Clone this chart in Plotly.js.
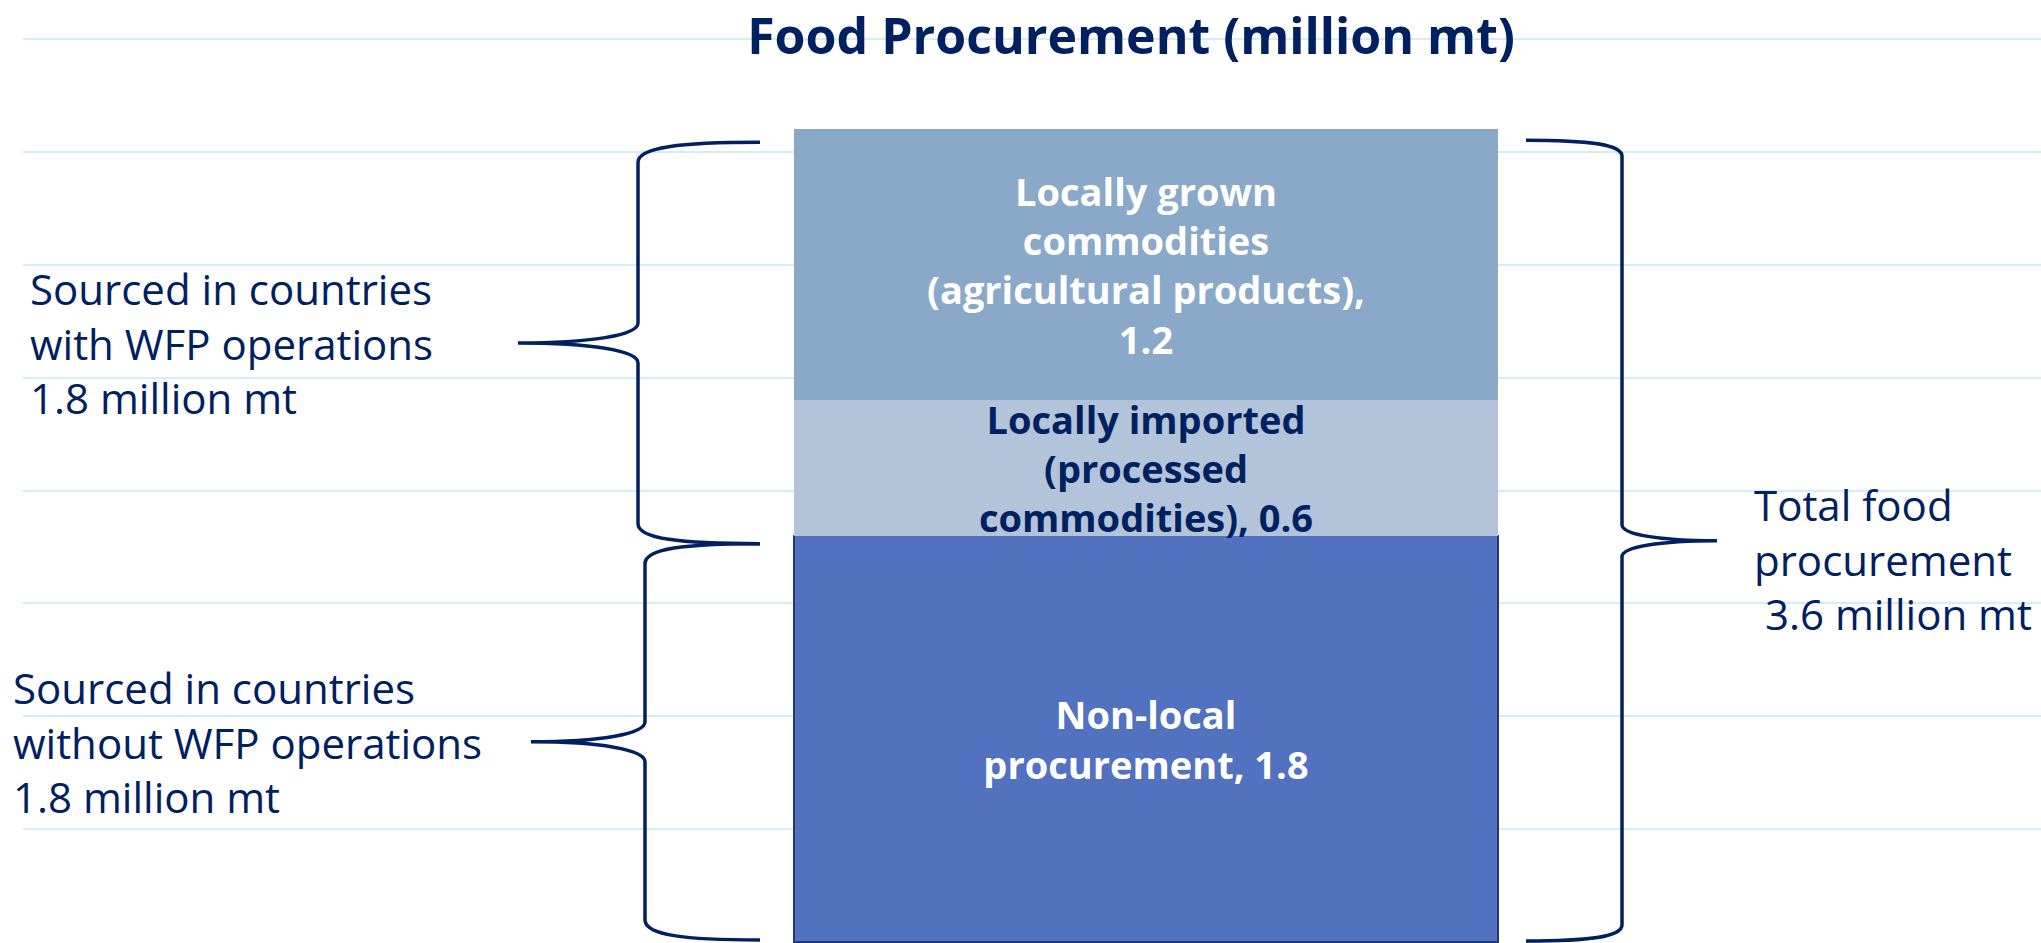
<!DOCTYPE html>
<html>
<head>
<meta charset="utf-8">
<script src="https://cdn.plot.ly/plotly-3.0.1.min.js"></script>
<style>html,body{margin:0;padding:0;background:#fff;}#chart{width:2041px;height:943px;}</style>
</head>
<body>
<div id="chart"></div>
<script>
// ---------------- DATA ----------------
const categories = ['Food Procurement'];
const segmentNames = ['Non-local procurement', 'Locally imported (processed commodities)', 'Locally grown commodities (agricultural products)'];
const segmentValues = [1.8, 0.6, 1.2];
const segmentLabels = [
  'Non-local<br>procurement, 1.8',
  'Locally imported<br>(processed<br>commodities), 0.6',
  'Locally grown<br>commodities<br>(agricultural products),<br>1.2'
];
const leftUpperLabel = ['Sourced in countries', 'with WFP operations', '1.8 million mt'];
const leftLowerLabel = ['Sourced in countries', 'without WFP operations', '1.8 million mt'];
const rightLabel = ['Total food', 'procurement', '\u00a03.6 million mt'];
const titleText = 'Food Procurement (million mt)';
const gridTop = 4;       // highest gridline value
const gridStep = 0.5;

// ---------------- STYLE ----------------
const segmentColors = ['#5271BF', '#B2C3DA', '#8AA8C8'];
const segmentTextColors = ['#FFFFFF', '#002060', '#FFFFFF'];
const segmentLineColors = ['#1F3A78', 'rgba(0,0,0,0)', 'rgba(0,0,0,0)'];
const segmentLineWidths = [1.5, 0, 0];
const navy = '#002060';

const W = 2041, H = 943;
const M = {l: 23, r: 0, t: 36, b: 0};
const plotW = W - M.l - M.r, plotH = H - M.t - M.b;
const pxPerUnit = 225.75;
const yMin = -1 / pxPerUnit;
const yMax = gridTop + 3 / pxPerUnit;

const X = px => (px - M.l) / plotW;               // pixel column -> paper x
const Yoff = px => px / plotH;                    // pixel offset -> paper y
const Yv = v => (v - yMin) / (yMax - yMin);       // data value -> paper y

// cumulative stacks from data
const nonLocal = segmentValues[0];
const total = segmentValues.reduce((a, b) => a + b, 0);

const traces = segmentValues.map((v, i) => ({
  type: 'bar',
  x: categories,
  y: [v],
  name: segmentNames[i],
  width: 0.7,
  text: [segmentLabels[i]],
  textposition: 'inside',
  insidetextanchor: 'middle',
  textangle: 0,
  constraintext: 'none',
  textfont: {family: 'Open Sans', size: 38, color: segmentTextColors[i], weight: 700},
  marker: {color: segmentColors[i], line: {color: segmentLineColors[i], width: segmentLineWidths[i]}},
  hoverinfo: 'skip',
  showlegend: false
}));

function bracePath(tipX, spineX, midX, top, bot, r) {
  const mid = (top + bot) / 2;
  const c1 = X(spineX + (tipX - spineX) * 0.34);
  const c2 = X(midX + (spineX - midX) * 0.6);
  const s = X(spineX), t = X(tipX), m = X(midX);
  return `M ${t},${top} C ${c1},${top} ${s},${top - r * 0.25} ${s},${top - r} ` +
         `L ${s},${mid + r} C ${s},${mid + r * 0.38} ${c2},${mid} ${m},${mid} ` +
         `C ${c2},${mid} ${s},${mid - r * 0.38} ${s},${mid - r} ` +
         `L ${s},${bot + r} C ${s},${bot + r * 0.25} ${c1},${bot} ${t},${bot}`;
}

const r = Yoff(20);
const ulTop = Yv(total) - Yoff(13), ulBot = Yv(nonLocal) - Yoff(8);
const llTop = Yv(nonLocal) - Yoff(8), llBot = Yv(0) + Yoff(2);
const rTop = Yv(total) - Yoff(11), rBot = Yv(0) + Yoff(1);

const shapes = [
  bracePath(760, 638, 518, ulTop, ulBot, r),
  bracePath(760, 645, 531, llTop, llBot, r),
  bracePath(1526, 1622, 1717, rTop, rBot, Yoff(16))
].map(p => ({type: 'path', path: p, xref: 'paper', yref: 'paper', line: {color: navy, width: 3.5}, layer: 'above'}));

const sideFont = {family: 'Open Sans', size: 42, color: navy};
const annotations = [
  {text: leftUpperLabel.join('<br>'), x: X(28), y: (ulTop + ulBot) / 2},
  {text: leftLowerLabel.join('<br>'), x: X(11), y: (llTop + llBot) / 2},
  {text: rightLabel.join('<br>'), x: X(1752), y: (rTop + rBot) / 2 - Yoff(18)}
].map(a => Object.assign({xref: 'paper', yref: 'paper', xanchor: 'left', yanchor: 'middle', align: 'left',
  showarrow: false, font: sideFont}, a));

const layout = {
  width: W, height: H,
  margin: M,
  paper_bgcolor: '#FFFFFF', plot_bgcolor: '#FFFFFF',
  barmode: 'stack',
  title: {
    text: titleText,
    font: {family: 'Open Sans', size: 50, color: navy, weight: 700},
    xref: 'container', yref: 'container',
    x: 1131 / W, xanchor: 'center',
    y: 1 - 36 / H, yanchor: 'middle'
  },
  xaxis: {range: [-1.1166, 0.8899], showgrid: false, zeroline: false, showticklabels: false, showline: false, ticks: '', fixedrange: true},
  yaxis: {range: [yMin, yMax], dtick: gridStep, tick0: 0, showgrid: true, gridcolor: '#D3EDFA', gridwidth: 2,
          zeroline: false, showticklabels: false, showline: false, ticks: '', fixedrange: true},
  shapes: shapes,
  annotations: annotations,
  hovermode: false,
  showlegend: false
};

Plotly.newPlot('chart', traces, layout, {staticPlot: true, displayModeBar: false});
</script>
</body>
</html>
